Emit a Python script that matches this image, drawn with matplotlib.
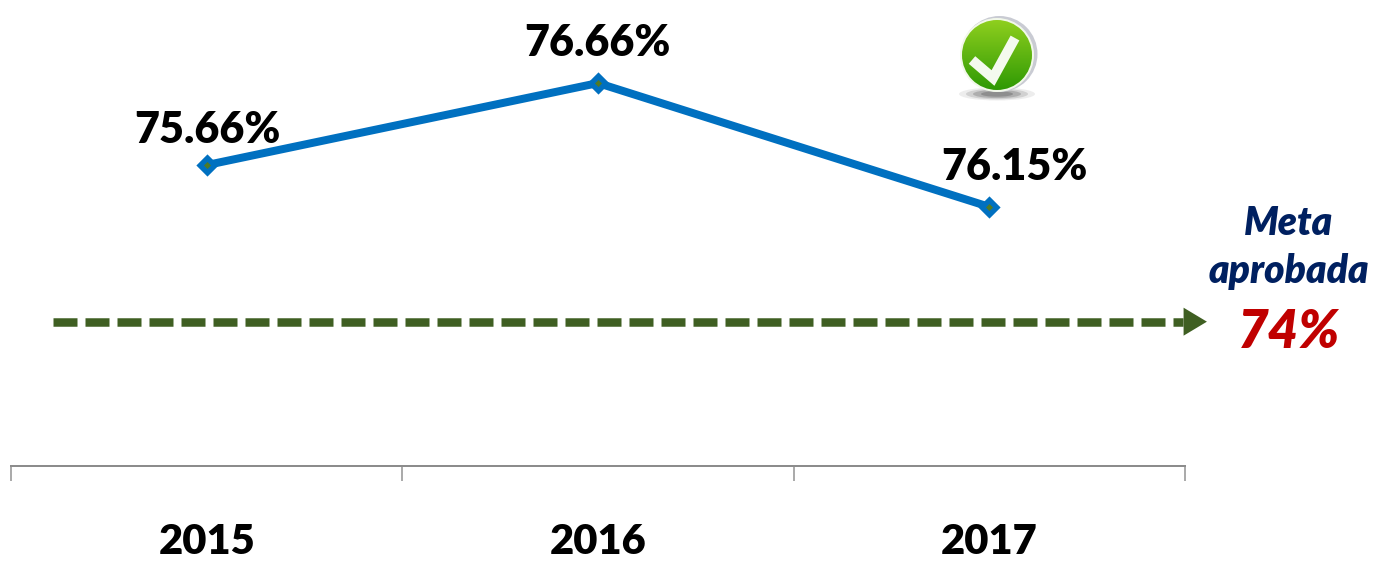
import numpy as np
import matplotlib
matplotlib.use('Agg')
import matplotlib.pyplot as plt
from matplotlib.patches import Circle, Ellipse

W, H = 1378, 561

years = ['2015', '2016', '2017']
# the drawn heights do not follow the printed labels in the original
line_values = [75.67, 76.67, 75.16]
line_labels = ['75.66%', '76.66%', '76.15%']
goal_value = 73.76
goal_start = -0.393
goal_end = 2.495
goal_tip = 2.556

BLUE = '#0070C0'
GREEN = '#3F5F22'
GREY = '#8C8C8C'
NAVY = '#002060'
RED = '#C00000'
px = 72 / 100  # one pixel in points at dpi 100

plt.rcParams['font.family'] = ['Lato', 'DejaVu Sans']

fig = plt.figure(figsize=(W / 100, H / 100), dpi=100)
ax = fig.add_axes([11 / W, 1 - 466 / H, 1174 / W, 466 / H])
ax.set_xlim(-0.5, 2.5)
ax.set_ylim(72, 72 + 466 / 82)

for s in ['top', 'left', 'right']:
    ax.spines[s].set_visible(False)
ax.spines['bottom'].set_color(GREY)
ax.spines['bottom'].set_linewidth(2 * px)
ax.set_yticks([])
ax.set_xticks([-0.5, 0.5, 1.5, 2.5])
ax.set_xticklabels([])
ax.tick_params(axis='x', length=15 * px, width=2 * px, color='#ABABAB')

for i, y in enumerate(years):
    ax.annotate(y, (i, 72), xytext=(0, -88 * px), textcoords='offset points',
                ha='center', va='baseline', fontsize=30, fontweight='heavy', color='black')

# goal line with arrow
ax.plot([goal_start, goal_end], [goal_value, goal_value], color=GREEN, lw=8.5 * px,
        dashes=(24 / 8.5, 8 / 8.5), dash_capstyle='butt', clip_on=False)
ax.annotate('', xy=(goal_tip, goal_value), xytext=(goal_end - 0.005, goal_value),
            annotation_clip=False,
            arrowprops=dict(arrowstyle='-|>,head_length=0.7,head_width=0.42', color=GREEN,
                            lw=0, mutation_scale=24 * px / 0.72, shrinkA=0, shrinkB=0))

# main series
x = np.arange(len(years))
ax.plot(x, line_values, color=BLUE, lw=8 * px, solid_capstyle='butt', zorder=3)
ax.plot(x, line_values, ls='none', marker='D', ms=13 * px, color=BLUE, mec=BLUE, mew=3 * px, zorder=4)
ax.plot(x, line_values, ls='none', marker='D', ms=5 * px, color='#4F7A28', mew=0, zorder=5)

offsets = [(0.5, 22), (-1, 27), (25, 27)]
for xi, yi, lab, off in zip(x, line_values, line_labels, offsets):
    ax.annotate(lab, (xi, yi), xytext=(off[0] * px, off[1] * px), textcoords='offset points',
                ha='center', va='baseline', fontsize=31, fontweight='heavy', color='black', zorder=6)

# goal text
fig.text(1289 / W, 1 - 235 / H, 'Meta', ha='center', va='baseline', fontsize=28,
         fontweight='heavy', style='italic', color=NAVY)
fig.text(1289 / W, 1 - 283 / H, 'aprobada', ha='center', va='baseline', fontsize=28,
         fontweight='heavy', style='italic', color=NAVY)
fig.text(1289 / W, 1 - 348 / H, '74%', ha='center', va='baseline', fontsize=38,
         fontweight='heavy', style='italic', color=RED)

# check icon
icon = fig.add_axes([952 / W, 1 - 104 / H, 90 / W, 90 / H])
icon.axis('off')
for w, a in [(76, 0.10), (62, 0.18), (48, 0.28), (32, 0.35)]:
    icon.add_patch(Ellipse((997, 94), w, 13 * w / 76, color='#555555', alpha=a, lw=0))
icon.add_patch(Circle((999.5, 54), 38, color='#C9CBD3', lw=0))
icon.add_patch(Circle((997, 55), 37, color='#F2F8EA', lw=0))
grad = np.linspace(0, 1, 128).reshape(-1, 1, 1)
c_top = np.array([0x8F, 0xCF, 0x1E]) / 255
c_bot = np.array([0x2E, 0x99, 0x04]) / 255
img = icon.imshow(c_top * (1 - grad) + c_bot * grad, extent=(962, 1032, 90, 20), aspect='auto', zorder=2)
img.set_clip_path(Circle((997, 55), 35, transform=icon.transData))
icon.set_xlim(952, 1042)
icon.set_ylim(104, 14)
icon.plot([972, 993, 1015], [60, 78, 38], color='#F4FAEE', lw=10 * px, zorder=3,
          solid_capstyle='butt', solid_joinstyle='miter')

fig.savefig('out.png', dpi=100, facecolor='white')
